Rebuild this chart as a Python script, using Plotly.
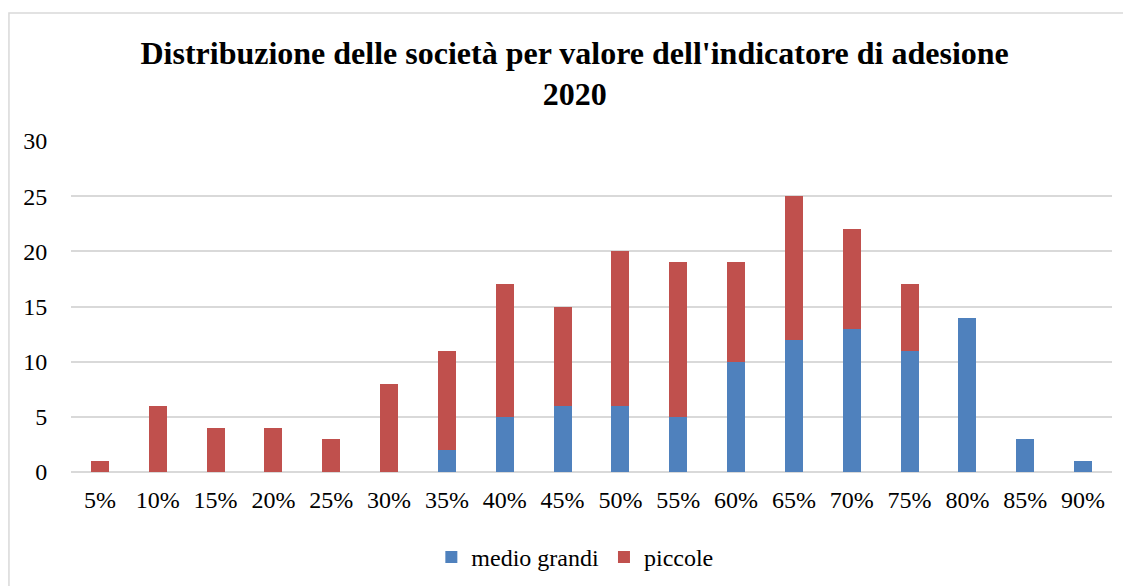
import plotly.graph_objects as go

CATEGORIES = ["5%", "10%", "15%", "20%", "25%", "30%", "35%", "40%", "45%",
              "50%", "55%", "60%", "65%", "70%", "75%", "80%", "85%", "90%"]
MEDIO_GRANDI = [0, 0, 0, 0, 0, 0, 2, 5, 6, 6, 5, 10, 12, 13, 11, 14, 3, 1]
PICCOLE = [1, 6, 4, 4, 3, 8, 9, 12, 9, 14, 14, 9, 13, 9, 6, 0, 0, 0]
Y_TICKS = [0, 5, 10, 15, 20, 25, 30]

FONT = "Liberation Serif, Times New Roman, serif"
BLUE = "#4F81BD"
RED = "#C0504D"

fig = go.Figure()
fig.add_trace(go.Bar(x=CATEGORIES, y=MEDIO_GRANDI, name="medio grandi",
                     marker=dict(color=BLUE, line=dict(width=0))))
fig.add_trace(go.Bar(x=CATEGORIES, y=PICCOLE, name="piccole",
                     marker=dict(color=RED, line=dict(width=0))))

fig.update_layout(
    barmode="stack",
    bargap=0.69,
    width=1131,
    height=586,
    margin=dict(l=63, r=27, t=133, b=122, autoexpand=False),
    paper_bgcolor="white",
    plot_bgcolor="white",
    font=dict(family=FONT, size=24, color="black"),
    title=dict(
        text="<b>Distribuzione delle società per valore dell'indicatore di adesione<br>2020</b>",
        x=0.501, xref="container", xanchor="center",
        y=0.905, yref="container", yanchor="top",
        font=dict(family=FONT, size=32, color="black"),
    ),
    legend=dict(orientation="h", x=0.484, xanchor="center",
                y=-0.19, yanchor="top", font=dict(family=FONT, size=24),
                traceorder="normal"),
    xaxis=dict(showgrid=False, showline=False, ticks="outside", ticklen=6,
               tickcolor="white", tickfont=dict(size=24), automargin=False),
    yaxis=dict(range=[0, 30], tickvals=Y_TICKS, showgrid=True, gridcolor="#D9D9D9",
               gridwidth=1.5, zeroline=True, zerolinecolor="#D9D9D9", zerolinewidth=1.5,
               ticks="outside", ticklen=18, tickcolor="white", tickfont=dict(size=24),
               automargin=False),
    shapes=[dict(type="rect", xref="paper", yref="paper",
                 x0=-0.0596, x1=1.05, y0=-0.5, y1=1.387,
                 line=dict(color="#D9D9D9", width=1.5), fillcolor="rgba(0,0,0,0)",
                 layer="below")],
)

fig.write_html("out.html")
